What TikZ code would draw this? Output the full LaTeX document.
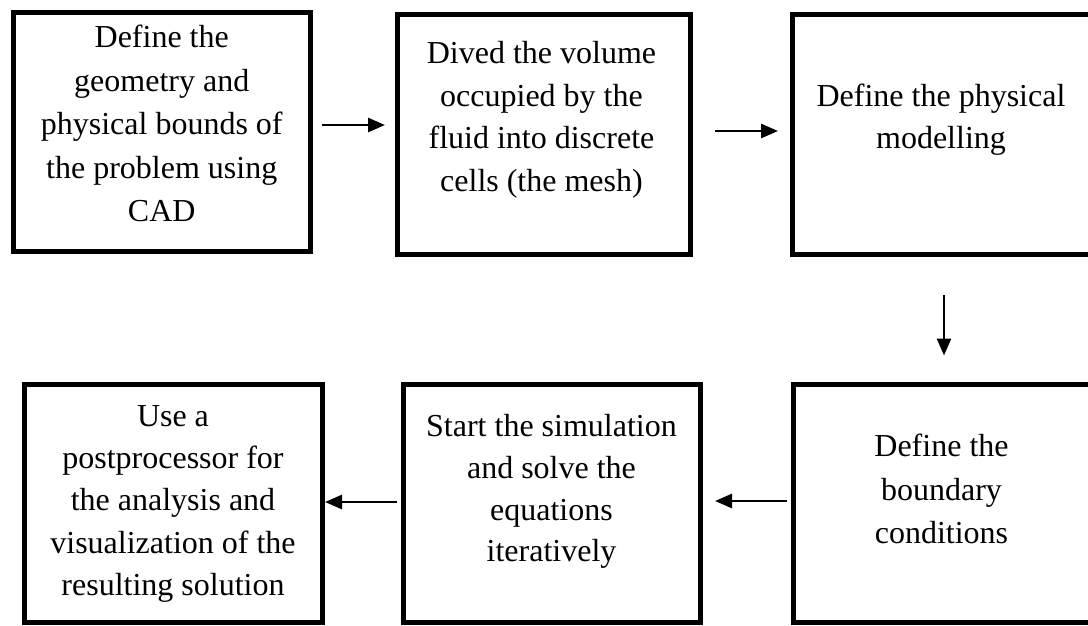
\documentclass[tikz,border=0pt]{standalone}
\usepackage{fontspec}
\setmainfont{Liberation Serif}
\usetikzlibrary{arrows.meta}

% one line of text per row, first baseline at the node's base anchor
\newcommand{\boxtext}[2]{\fontsize{32}{#1}\selectfont\begin{tabular}[t]{@{}c@{}}#2\end{tabular}}

\begin{document}
\begin{tikzpicture}[x=1pt,y=-1pt,
  stepbox/.style={draw=black, line width=5pt, rectangle, inner sep=0pt, fill=white},
  steptext/.style={anchor=base, inner sep=0pt},
  flow/.style={line width=2.7pt, -{Triangle[length=17pt,width=14pt]}}]

\useasboundingbox[fill=white] (0,0) rectangle (1088,625);

% top row of steps
\node[stepbox, minimum width=296.5pt, minimum height=238.5pt] (b1) at (161.75,131.75) {};
\node[stepbox, minimum width=293pt,   minimum height=240pt]   (b2) at (543.5,134) {};
\node[stepbox, minimum width=299pt,   minimum height=240.5pt] (b3) at (941.5,134.25) {};

% bottom row of steps
\node[stepbox, minimum width=298pt, minimum height=238.5pt] (b4) at (173,503.25) {};
\node[stepbox, minimum width=297pt, minimum height=238.5pt] (b5) at (551.5,503.25) {};
\node[stepbox, minimum width=298pt, minimum height=238.5pt] (b6) at (942,503.25) {};

% step descriptions
\node[steptext] (t1) at (161.75,47.7) {\boxtext{43.5pt}{Define the\\geometry and\\physical bounds of\\the problem using\\CAD}};
\node[steptext] (t2) at (541.5,63.3) {\boxtext{42.8pt}{Dived the volume\\occupied by the\\fluid into discrete\\cells (the mesh)}};
\node[steptext] (t3) at (941,106.5) {\boxtext{42.3pt}{Define the physical\\modelling}};
\node[steptext] (t4) at (173,426.5) {\boxtext{42.2pt}{Use a\\postprocessor for\\the analysis and\\visualization of the\\resulting solution}};
\node[steptext] (t5) at (551.5,436.7) {\boxtext{41.7pt}{Start the simulation\\and solve the\\equations\\iteratively}};
\node[steptext] (t6) at (941.5,456.7) {\boxtext{43.3pt}{Define the\\boundary\\conditions}};

% flow between the steps
\draw[flow] ([xshift=9.5pt,yshift=6.75pt]b1.east) -- ([xshift=-9.5pt,yshift=9pt]b2.west);
\draw[flow] ([xshift=22.5pt,yshift=3pt]b2.east) -- ([xshift=-11.5pt,yshift=3.25pt]b3.west);
\draw[flow] ([xshift=2.5pt,yshift=-38pt]b3.south) -- ([xshift=2pt,yshift=26pt]b6.north);
\draw[flow] ([xshift=-3.5pt,yshift=2.25pt]b6.west) -- ([xshift=12.5pt,yshift=2.25pt]b5.east);
\draw[flow] ([xshift=-3.5pt,yshift=1.25pt]b5.west) -- ([xshift=0.5pt,yshift=1.25pt]b4.east);
\end{tikzpicture}
\end{document}
